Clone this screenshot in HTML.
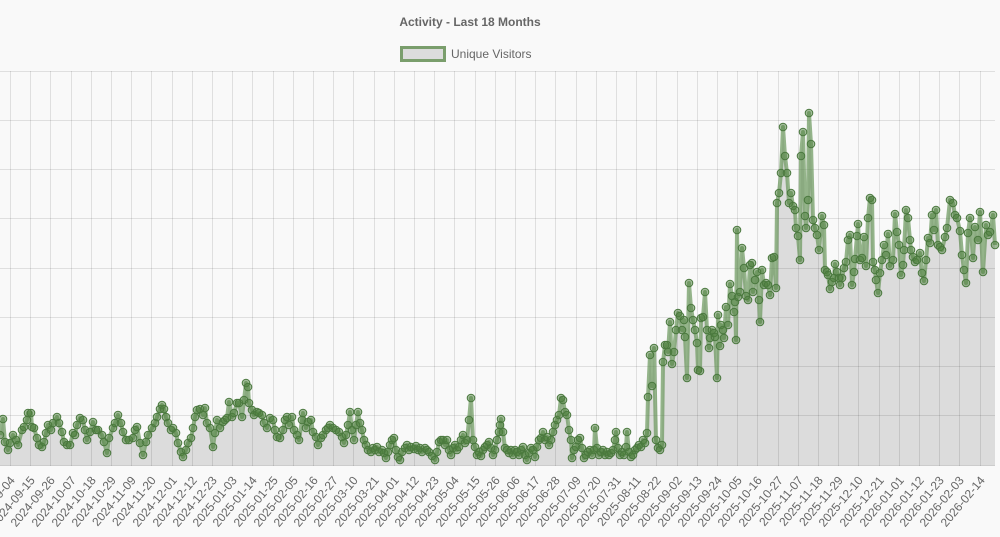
<!DOCTYPE html>
<html>
<head>
<meta charset="utf-8">
<style>
html,body{margin:0;padding:0;background:#f9f9f9;}
svg{display:block;}
text{font-family:"Liberation Sans",Arial,sans-serif;}
</style>
</head>
<body>
<svg width="1000" height="537" viewBox="0 0 1000 537" xmlns="http://www.w3.org/2000/svg">
<defs>
<marker id="m" markerWidth="10" markerHeight="10" refX="5" refY="5" markerUnits="userSpaceOnUse">
<circle cx="5" cy="5" r="3.8" fill="rgba(78,128,62,0.5)" stroke="#4a783e" stroke-width="1"/>
</marker>
</defs>
<rect width="1000" height="537" fill="#f9f9f9"/>
<text x="470" y="26" text-anchor="middle" font-size="12" font-weight="bold" fill="#666">Activity - Last 18 Months</text>
<rect x="401.5" y="47.5" width="43" height="13" fill="#dcdcdc" stroke="#7a9e6c" stroke-width="3"/>
<text x="451" y="58" font-size="12" fill="#666">Unique Visitors</text>

<polygon id="fill" fill="#dcdcdc" points="0,465 0,435 3,419 5,442 8,450 10,443 13,435 16,440 18,445 22,430 24,427 27,420 28,413 31,413 32,427 34,428 37,438 39,445 42,447 44,442 46,433 48,425 51,430 53,423 57,417 59,423 62,432 64,442 67,445 70,445 73,433 75,435 77,425 80,418 83,420 85,430 87,440 90,432 93,422 96,430 98,430 102,435 104,442 107,453 109,438 113,428 115,423 118,415 121,423 123,432 126,440 129,440 133,438 135,430 137,427 140,443 143,455 146,442 148,435 152,428 155,423 157,417 160,409 162,405 164,409 166,417 168,423 171,430 173,428 176,433 178,443 181,452 183,457 186,450 188,443 191,438 193,428 195,417 197,410 200,409 203,415 205,408 207,423 210,428 213,447 215,433 217,420 220,428 223,422 225,420 227,418 229,402 232,417 234,413 237,403 239,403 242,417 244,400 246,383 248,387 249,403 252,410 254,415 257,412 259,413 262,415 264,423 267,428 270,418 273,420 275,430 277,437 280,438 283,430 285,420 287,417 289,425 292,417 294,430 297,435 299,440 302,420 303,413 306,428 308,422 311,420 313,432 316,437 318,445 321,438 323,435 326,430 328,428 330,425 333,428 336,430 339,432 342,437 344,443 346,435 348,425 350,412 352,430 354,440 356,425 358,412 360,423 362,430 364,440 366,445 368,450 371,452 373,448 375,450 377,447 379,452 382,450 384,453 386,458 388,452 390,445 392,440 394,438 396,450 398,457 400,460 402,452 405,448 407,445 409,450 411,447 414,449 416,446 418,450 420,448 422,452 425,448 427,450 429,452 432,456 435,460 437,452 439,442 441,440 443,440 445,445 447,440 449,450 451,455 453,448 455,445 457,450 459,447 461,440 463,435 465,443 467,440 469,420 471,398 473,440 475,447 477,455 479,452 481,456 483,450 485,447 487,445 489,442 491,448 493,455 495,450 497,440 499,432 500,425 501,419 503,432 505,448 507,450 509,453 511,450 513,455 515,450 517,452 519,455 521,450 523,447 525,455 527,460 529,453 531,448 533,450 535,457 537,447 539,440 541,438 543,432 545,440 547,437 549,445 551,440 553,432 555,425 557,420 559,415 561,398 563,400 565,412 567,415 569,430 571,440 572,458 574,450 576,447 578,440 580,438 582,448 584,458 586,455 588,452 590,450 592,455 594,450 595,428 597,448 599,455 601,452 603,450 605,455 607,452 609,455 611,453 613,450 615,440 616,432 618,448 620,455 622,452 624,455 626,447 627,432 629,452 631,457 633,455 635,450 637,448 639,445 641,447 643,440 645,443 647,433 648,397 650,355 652,386 654,348 656,440 658,448 660,450 662,445 663,362 665,345 667,345 668,352 670,322 672,364 674,352 676,330 678,313 680,316 682,330 684,320 685,337 687,378 689,283 691,308 693,320 695,330 697,343 698,370 700,371 701,318 703,317 705,292 707,330 709,348 710,338 712,330 714,333 715,337 717,378 718,315 720,346 721,325 723,330 724,338 726,307 728,325 730,284 732,296 734,312 735,302 736,340 737,230 738,297 740,292 742,248 744,268 746,296 748,300 750,265 752,263 753,292 755,280 757,272 759,300 760,322 762,270 764,285 766,283 768,285 770,295 772,258 774,257 776,288 777,203 779,193 781,173 783,127 785,156 787,173 789,203 791,193 793,206 795,210 796,228 798,236 800,260 801,156 803,132 805,216 806,228 808,200 809,113 811,144 813,220 815,228 817,235 819,250 822,216 824,225 825,270 827,272 828,275 830,289 832,282 834,278 835,264 837,272 839,278 840,285 842,278 844,268 846,262 848,240 850,235 852,285 854,272 855,259 857,236 858,224 860,260 862,258 864,237 866,266 868,218 870,198 872,200 873,262 875,270 876,280 878,293 880,273 882,260 884,245 886,255 888,234 890,266 893,260 895,214 897,232 899,245 901,275 903,265 904,250 906,210 908,218 910,240 911,250 913,257 915,262 917,260 920,253 922,273 924,281 926,260 928,238 930,243 932,215 934,230 936,210 938,245 940,247 942,250 945,237 947,228 950,200 953,203 955,215 957,218 960,231 962,255 964,270 966,283 968,233 970,218 973,258 975,227 978,240 980,212 983,272 986,225 988,235 990,232 993,215 995,245 995,465"/>

<g stroke="rgba(0,0,0,0.1)" stroke-width="1" fill="none">
<path d="M0 71.5H995M0 120.5H995M0 169.5H995M0 218.5H995M0 268.5H995M0 317.5H995M0 366.5H995M0 415.5H995"/>
<path d="M10.5 71V466M30.5 71V466M50.5 71V466M71.5 71V466M91.5 71V466M111.5 71V466M131.5 71V466M151.5 71V466M172.5 71V466M192.5 71V466M212.5 71V466M232.5 71V466M252.5 71V466M273.5 71V466M293.5 71V466M313.5 71V466M333.5 71V466M353.5 71V466M374.5 71V466M394.5 71V466M414.5 71V466M434.5 71V466M454.5 71V466M475.5 71V466M495.5 71V466M515.5 71V466M535.5 71V466M555.5 71V466M576.5 71V466M596.5 71V466M616.5 71V466M636.5 71V466M656.5 71V466M677.5 71V466M697.5 71V466M717.5 71V466M737.5 71V466M757.5 71V466M778.5 71V466M798.5 71V466M818.5 71V466M838.5 71V466M858.5 71V466M879.5 71V466M899.5 71V466M919.5 71V466M939.5 71V466M959.5 71V466M980.5 71V466"/>
</g>
<path d="M0 465.5H995" stroke="rgba(0,0,0,0.18)" stroke-width="1"/>

<polyline fill="none" stroke="#5d8f4e" stroke-opacity="0.65" stroke-width="4" stroke-linejoin="round" marker-start="url(#m)" marker-mid="url(#m)" marker-end="url(#m)" points="0,435 3,419 5,442 8,450 10,443 13,435 16,440 18,445 22,430 24,427 27,420 28,413 31,413 32,427 34,428 37,438 39,445 42,447 44,442 46,433 48,425 51,430 53,423 57,417 59,423 62,432 64,442 67,445 70,445 73,433 75,435 77,425 80,418 83,420 85,430 87,440 90,432 93,422 96,430 98,430 102,435 104,442 107,453 109,438 113,428 115,423 118,415 121,423 123,432 126,440 129,440 133,438 135,430 137,427 140,443 143,455 146,442 148,435 152,428 155,423 157,417 160,409 162,405 164,409 166,417 168,423 171,430 173,428 176,433 178,443 181,452 183,457 186,450 188,443 191,438 193,428 195,417 197,410 200,409 203,415 205,408 207,423 210,428 213,447 215,433 217,420 220,428 223,422 225,420 227,418 229,402 232,417 234,413 237,403 239,403 242,417 244,400 246,383 248,387 249,403 252,410 254,415 257,412 259,413 262,415 264,423 267,428 270,418 273,420 275,430 277,437 280,438 283,430 285,420 287,417 289,425 292,417 294,430 297,435 299,440 302,420 303,413 306,428 308,422 311,420 313,432 316,437 318,445 321,438 323,435 326,430 328,428 330,425 333,428 336,430 339,432 342,437 344,443 346,435 348,425 350,412 352,430 354,440 356,425 358,412 360,423 362,430 364,440 366,445 368,450 371,452 373,448 375,450 377,447 379,452 382,450 384,453 386,458 388,452 390,445 392,440 394,438 396,450 398,457 400,460 402,452 405,448 407,445 409,450 411,447 414,449 416,446 418,450 420,448 422,452 425,448 427,450 429,452 432,456 435,460 437,452 439,442 441,440 443,440 445,445 447,440 449,450 451,455 453,448 455,445 457,450 459,447 461,440 463,435 465,443 467,440 469,420 471,398 473,440 475,447 477,455 479,452 481,456 483,450 485,447 487,445 489,442 491,448 493,455 495,450 497,440 499,432 500,425 501,419 503,432 505,448 507,450 509,453 511,450 513,455 515,450 517,452 519,455 521,450 523,447 525,455 527,460 529,453 531,448 533,450 535,457 537,447 539,440 541,438 543,432 545,440 547,437 549,445 551,440 553,432 555,425 557,420 559,415 561,398 563,400 565,412 567,415 569,430 571,440 572,458 574,450 576,447 578,440 580,438 582,448 584,458 586,455 588,452 590,450 592,455 594,450 595,428 597,448 599,455 601,452 603,450 605,455 607,452 609,455 611,453 613,450 615,440 616,432 618,448 620,455 622,452 624,455 626,447 627,432 629,452 631,457 633,455 635,450 637,448 639,445 641,447 643,440 645,443 647,433 648,397 650,355 652,386 654,348 656,440 658,448 660,450 662,445 663,362 665,345 667,345 668,352 670,322 672,364 674,352 676,330 678,313 680,316 682,330 684,320 685,337 687,378 689,283 691,308 693,320 695,330 697,343 698,370 700,371 701,318 703,317 705,292 707,330 709,348 710,338 712,330 714,333 715,337 717,378 718,315 720,346 721,325 723,330 724,338 726,307 728,325 730,284 732,296 734,312 735,302 736,340 737,230 738,297 740,292 742,248 744,268 746,296 748,300 750,265 752,263 753,292 755,280 757,272 759,300 760,322 762,270 764,285 766,283 768,285 770,295 772,258 774,257 776,288 777,203 779,193 781,173 783,127 785,156 787,173 789,203 791,193 793,206 795,210 796,228 798,236 800,260 801,156 803,132 805,216 806,228 808,200 809,113 811,144 813,220 815,228 817,235 819,250 822,216 824,225 825,270 827,272 828,275 830,289 832,282 834,278 835,264 837,272 839,278 840,285 842,278 844,268 846,262 848,240 850,235 852,285 854,272 855,259 857,236 858,224 860,260 862,258 864,237 866,266 868,218 870,198 872,200 873,262 875,270 876,280 878,293 880,273 882,260 884,245 886,255 888,234 890,266 893,260 895,214 897,232 899,245 901,275 903,265 904,250 906,210 908,218 910,240 911,250 913,257 915,262 917,260 920,253 922,273 924,281 926,260 928,238 930,243 932,215 934,230 936,210 938,245 940,247 942,250 945,237 947,228 950,200 953,203 955,215 957,218 960,231 962,255 964,270 966,283 968,233 970,218 973,258 975,227 978,240 980,212 983,272 986,225 988,235 990,232 993,215 995,245"/>

<g font-size="12" fill="#666" text-anchor="end" dominant-baseline="central">
<text transform="translate(12.5,478) rotate(-50)">2024-09-04</text>
<text transform="translate(32.5,478) rotate(-50)">2024-09-15</text>
<text transform="translate(52.5,478) rotate(-50)">2024-09-26</text>
<text transform="translate(73.5,478) rotate(-50)">2024-10-07</text>
<text transform="translate(93.5,478) rotate(-50)">2024-10-18</text>
<text transform="translate(113.5,478) rotate(-50)">2024-10-29</text>
<text transform="translate(133.5,478) rotate(-50)">2024-11-09</text>
<text transform="translate(153.5,478) rotate(-50)">2024-11-20</text>
<text transform="translate(174.5,478) rotate(-50)">2024-12-01</text>
<text transform="translate(194.5,478) rotate(-50)">2024-12-12</text>
<text transform="translate(214.5,478) rotate(-50)">2024-12-23</text>
<text transform="translate(234.5,478) rotate(-50)">2025-01-03</text>
<text transform="translate(254.5,478) rotate(-50)">2025-01-14</text>
<text transform="translate(275.5,478) rotate(-50)">2025-01-25</text>
<text transform="translate(295.5,478) rotate(-50)">2025-02-05</text>
<text transform="translate(315.5,478) rotate(-50)">2025-02-16</text>
<text transform="translate(335.5,478) rotate(-50)">2025-02-27</text>
<text transform="translate(355.5,478) rotate(-50)">2025-03-10</text>
<text transform="translate(376.5,478) rotate(-50)">2025-03-21</text>
<text transform="translate(396.5,478) rotate(-50)">2025-04-01</text>
<text transform="translate(416.5,478) rotate(-50)">2025-04-12</text>
<text transform="translate(436.5,478) rotate(-50)">2025-04-23</text>
<text transform="translate(456.5,478) rotate(-50)">2025-05-04</text>
<text transform="translate(477.5,478) rotate(-50)">2025-05-15</text>
<text transform="translate(497.5,478) rotate(-50)">2025-05-26</text>
<text transform="translate(517.5,478) rotate(-50)">2025-06-06</text>
<text transform="translate(537.5,478) rotate(-50)">2025-06-17</text>
<text transform="translate(557.5,478) rotate(-50)">2025-06-28</text>
<text transform="translate(578.5,478) rotate(-50)">2025-07-09</text>
<text transform="translate(598.5,478) rotate(-50)">2025-07-20</text>
<text transform="translate(618.5,478) rotate(-50)">2025-07-31</text>
<text transform="translate(638.5,478) rotate(-50)">2025-08-11</text>
<text transform="translate(658.5,478) rotate(-50)">2025-08-22</text>
<text transform="translate(679.5,478) rotate(-50)">2025-09-02</text>
<text transform="translate(699.5,478) rotate(-50)">2025-09-13</text>
<text transform="translate(719.5,478) rotate(-50)">2025-09-24</text>
<text transform="translate(739.5,478) rotate(-50)">2025-10-05</text>
<text transform="translate(759.5,478) rotate(-50)">2025-10-16</text>
<text transform="translate(780.5,478) rotate(-50)">2025-10-27</text>
<text transform="translate(800.5,478) rotate(-50)">2025-11-07</text>
<text transform="translate(820.5,478) rotate(-50)">2025-11-18</text>
<text transform="translate(840.5,478) rotate(-50)">2025-11-29</text>
<text transform="translate(860.5,478) rotate(-50)">2025-12-10</text>
<text transform="translate(881.5,478) rotate(-50)">2025-12-21</text>
<text transform="translate(901.5,478) rotate(-50)">2026-01-01</text>
<text transform="translate(921.5,478) rotate(-50)">2026-01-12</text>
<text transform="translate(941.5,478) rotate(-50)">2026-01-23</text>
<text transform="translate(961.5,478) rotate(-50)">2026-02-03</text>
<text transform="translate(982.5,478) rotate(-50)">2026-02-14</text>
</g>
</svg>
</body>
</html>
